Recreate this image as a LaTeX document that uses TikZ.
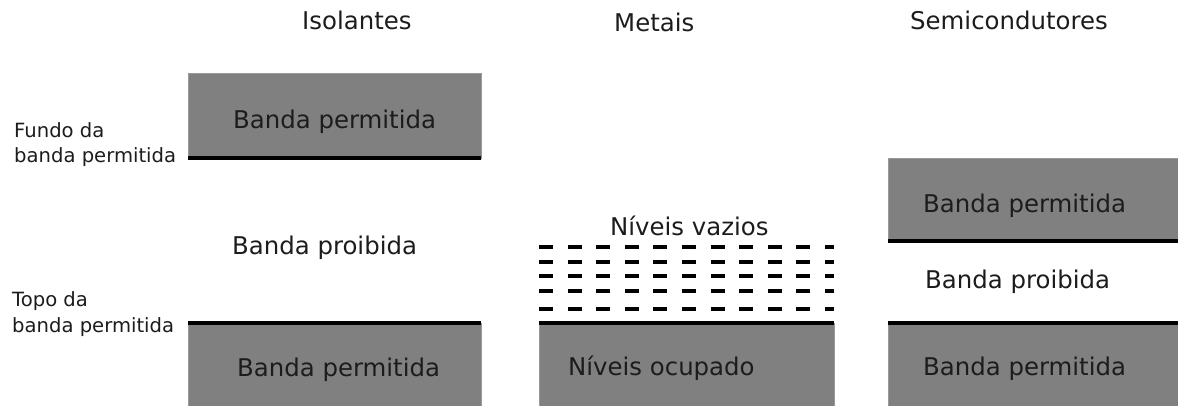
\documentclass[tikz,border=0pt]{standalone}
\usepackage{fontspec}
\setmainfont{DejaVu Sans}
\definecolor{bandgray}{HTML}{808080}
\definecolor{txt}{HTML}{1C1C1C}
\begin{document}
\begin{tikzpicture}[x=1pt,y=-1pt,
  lbl/.style={anchor=base west,inner sep=0pt,text=txt,font=\fontsize{24.4}{29}\selectfont},
  small/.style={anchor=base west,inner sep=0pt,text=txt,font=\fontsize{19.6}{26}\selectfont},
  band/.style={fill=bandgray,draw=gray!80,line width=0.6pt},
  edge/.style={line width=3.5pt,black},
  lvl/.style={line width=4pt,black,dash pattern=on 14pt off 14.6pt}]
\useasboundingbox (0,0) rectangle (1178,405);
% titles
\node[lbl] (t1) at (302,29) {Isolantes};
\node[lbl] (t2) at (614,31) {Metais};
\node[lbl] (t3) at (910,29) {Semicondutores};
% Isolantes
\fill[band] (188,73) rectangle (481,158);
\fill[band] (188,323) rectangle (481,406);
\coordinate (a1) at (188,158); \coordinate (a2) at (481,158);
\coordinate (b1) at (188,323); \coordinate (b2) at (481,323);
\draw[edge] (a1) -- (a2);
\draw[edge] (b1) -- (b2);
\node[lbl] (i1) at (233,128) {Banda permitida};
\node[lbl] (i2) at (232,254) {Banda proibida};
\node[lbl] (i3) at (237,376) {Banda permitida};
\node[small] (f1) at (14,137) {Fundo da};
\node[small] (f2) at (14,162) {banda permitida};
\node[small] (p1) at (12,306) {Topo da};
\node[small] (p2) at (12,332) {banda permitida};
% Metais
\fill[band] (539,323) rectangle (834,406);
\coordinate (m1) at (539,323); \coordinate (m2) at (834,323);
\draw[edge] (m1) -- (m2);
\foreach \yy [count=\k] in {247,262,276,291,309}{
  \coordinate (d\k a) at (539,\yy); \coordinate (d\k b) at (834,\yy);
  \draw[lvl] (d\k a) -- (d\k b);
}
\node[lbl] (mv) at (610,235) {Níveis vazios};
\node[lbl] (mo) at (568,375) {Níveis ocupado};
% Semicondutores
\fill[band] (888,158) rectangle (1179,241);
\fill[band] (888,323) rectangle (1179,406);
\coordinate (s1) at (888,241); \coordinate (s2) at (1178,241);
\coordinate (s3) at (888,323); \coordinate (s4) at (1178,323);
\draw[edge] (s1) -- (s2);
\draw[edge] (s3) -- (s4);
\node[lbl] (c1) at (923,212) {Banda permitida};
\node[lbl] (c2) at (925,288) {Banda proibida};
\node[lbl] (c3) at (923,375) {Banda permitida};
\end{tikzpicture}
\end{document}
